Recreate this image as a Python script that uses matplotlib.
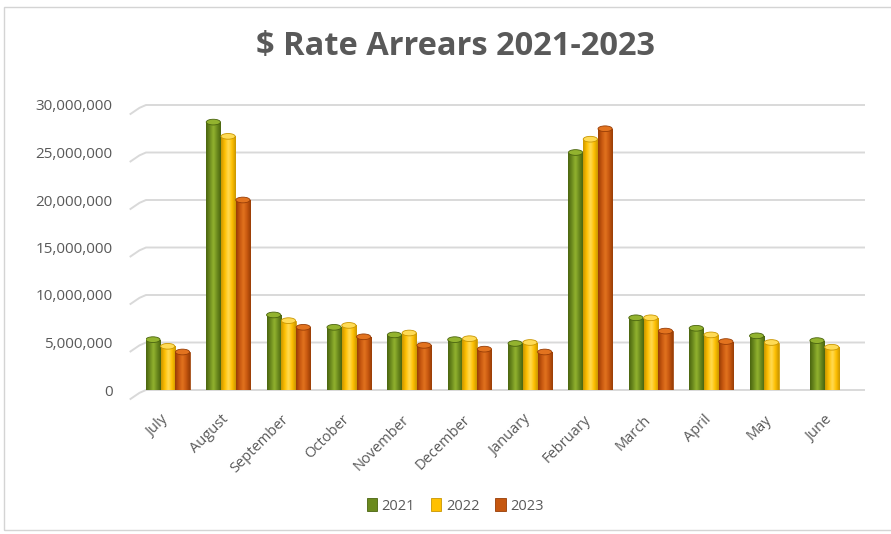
import matplotlib

matplotlib.use("Agg")
import matplotlib.pyplot as plt
import matplotlib.transforms as mtransforms
import numpy as np
from matplotlib.colors import LinearSegmentedColormap
from matplotlib.patches import Ellipse, Rectangle
from matplotlib.ticker import FuncFormatter

plt.rcParams["font.family"] = ["Open Sans", "DejaVu Sans"]

MONTHS = ["July", "August", "September", "October", "November", "December",
          "January", "February", "March", "April", "May", "June"]
YEARS = ["2021", "2022", "2023"]
ARREARS_2021 = [5.3e6, 28.2e6, 7.9e6, 6.6e6, 5.8e6, 5.3e6, 4.9e6, 25.0e6, 7.6e6, 6.5e6, 5.7e6, 5.2e6]
ARREARS_2022 = [4.6e6, 26.7e6, 7.3e6, 6.8e6, 6.0e6, 5.4e6, 5.0e6, 26.4e6, 7.6e6, 5.8e6, 5.0e6, 4.5e6]
ARREARS_2023 = [4.0e6, 20.0e6, 6.6e6, 5.6e6, 4.7e6, 4.3e6, 4.0e6, 27.5e6, 6.2e6, 5.1e6, np.nan, np.nan]

# base, highlight, shadow for each cylinder series
SERIES_COLORS = [
    ("#6b8a1e", "#93b32f", "#4a640f"),
    ("#ffc000", "#ffdb55", "#c99600"),
    ("#c6570f", "#e2731f", "#973d06"),
]
TEXT = "#595959"
GRID = "#d9d9d9"

fig = plt.figure(figsize=(8.91, 5.34), dpi=100)
fig.patch.set_facecolor("white")
fig.patches.append(Rectangle((4 / 891, 4 / 534), 1.2, 1 - 11 / 534, transform=fig.transFigure,
                             fill=False, edgecolor="#d4d4d4", linewidth=1.0))

ax = fig.add_axes([146 / 891, 1 - 390 / 534, 719 / 891, 285 / 534])
ax.set_facecolor("white")

x = np.arange(len(MONTHS))
width = 0.235
offsets = [-0.245, 0.0, 0.245]
ymax = 30e6
cap_h = 0.6e6
xlo, xhi = -0.36, 11.55

for series, off, (base, hi, lo), label in zip(
        [ARREARS_2021, ARREARS_2022, ARREARS_2023], offsets, SERIES_COLORS, YEARS):
    vals = np.array(series, dtype=float)
    bars = ax.bar(x + off, np.nan_to_num(vals), width, color=base, label=label, zorder=3,
                  edgecolor=lo, linewidth=0.5)
    cmap = LinearSegmentedColormap.from_list(label, [lo, base, hi, base, lo])
    grad = np.linspace(0, 1, 64).reshape(1, -1)
    for rect, v in zip(bars, vals):
        if np.isnan(v):
            continue
        x0 = rect.get_x()
        im = ax.imshow(grad, extent=(x0, x0 + width, 0, v), aspect="auto", cmap=cmap,
                       zorder=3.5, interpolation="bicubic")
        im.set_clip_path(rect)
        ax.add_patch(Ellipse((x0 + width / 2, v), width, cap_h, facecolor=hi,
                             edgecolor=lo, linewidth=0.6, zorder=4))

ax.set_xlim(xlo, xhi)
ax.set_ylim(0, ymax)
yticks = np.arange(0, ymax + 1, 5e6)
ax.set_yticks(yticks)
ax.yaxis.set_major_formatter(FuncFormatter(lambda v, _: f"{v:,.0f}"))

# back-wall gridlines with the short slanted lead-in on the left
slant_dx, slant_dy = 0.27, 1.0e6
for yv in yticks:
    ax.plot([xlo - slant_dx, xlo - slant_dx * 0.4, xlo, xhi],
            [yv - slant_dy, yv - slant_dy * 0.3, yv, yv],
            color=GRID, linewidth=1.4, zorder=0, clip_on=False, solid_capstyle="butt")

for s in ax.spines.values():
    s.set_visible(False)
ax.tick_params(axis="y", length=0, pad=24, labelsize=11, labelcolor=TEXT)
ax.tick_params(axis="x", length=0, pad=16, labelsize=10.5, labelcolor=TEXT)
ax.set_xticks(x)
ax.set_xticklabels(MONTHS, rotation=45, ha="right", rotation_mode="anchor")
shift = mtransforms.ScaledTranslation(-7 / 100, 0, fig.dpi_scale_trans)
for lbl in ax.get_xticklabels():
    lbl.set_transform(lbl.get_transform() + shift)

fig.text(0.511, 1 - 46 / 534, "$ Rate Arrears 2021-2023", ha="center", va="center",
         fontsize=23.5, fontweight="bold", color=TEXT)

handles = [Rectangle((0, 0), 1, 1, facecolor=c[0], edgecolor=c[2], linewidth=0.6)
           for c in SERIES_COLORS]
leg = fig.legend(handles, YEARS, loc="center", bbox_to_anchor=(0.511, 1 - 506 / 534), ncol=3,
                 frameon=False, fontsize=10.5, handlelength=0.7, handleheight=0.9,
                 handletextpad=0.3, columnspacing=1.1)
for t in leg.get_texts():
    t.set_color(TEXT)

fig.savefig("out.png", dpi=100)
